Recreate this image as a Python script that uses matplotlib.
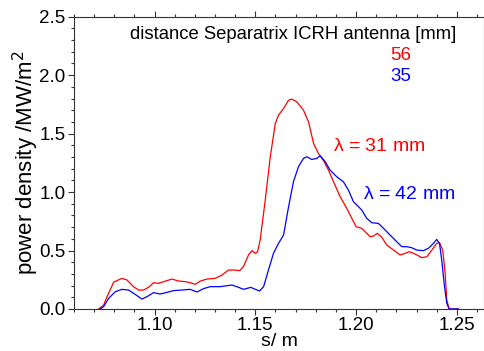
import matplotlib
matplotlib.use("Agg")
import matplotlib.pyplot as plt
from matplotlib.ticker import MultipleLocator, FormatStrFormatter

plt.rcParams['font.family'] = ['Liberation Sans', 'DejaVu Sans']

# distance 56 mm, lambda = 31 mm
s_red = [1.0722, 1.0747, 1.0764, 1.0797, 1.0838, 1.0863, 1.0896, 1.0921, 1.0945, 1.0970,
         1.0995, 1.1020, 1.1045, 1.1086, 1.1119, 1.1152, 1.1177, 1.1202, 1.1227, 1.1260,
         1.1301, 1.1334, 1.1367, 1.1392, 1.1422, 1.1441, 1.1466, 1.1483, 1.1500, 1.1511,
         1.1524, 1.1549, 1.1574, 1.1599, 1.1615, 1.1640, 1.1665, 1.1681, 1.1706, 1.1739,
         1.1764, 1.1789, 1.1813, 1.1838, 1.1863, 1.1888, 1.1921, 1.1954, 1.1979, 1.2000,
         1.2028, 1.2045, 1.2070, 1.2086, 1.2106, 1.2128, 1.2152, 1.2186, 1.2219, 1.2243,
         1.2265, 1.2293, 1.2326, 1.2351, 1.2376, 1.2400, 1.2414, 1.2430, 1.2442, 1.2450,
         1.2462, 1.2508]
p_red = [0.000, 0.034, 0.105, 0.230, 0.262, 0.248, 0.190, 0.162, 0.162, 0.185,
         0.225, 0.219, 0.234, 0.256, 0.239, 0.234, 0.225, 0.211, 0.239, 0.256,
         0.262, 0.290, 0.333, 0.333, 0.328, 0.362, 0.462, 0.499, 0.476, 0.490,
         0.590, 0.930, 1.300, 1.587, 1.658, 1.715, 1.786, 1.795, 1.772, 1.700,
         1.600, 1.416, 1.330, 1.270, 1.188, 1.088, 0.960, 0.860, 0.775, 0.704,
         0.690, 0.661, 0.618, 0.624, 0.647, 0.613, 0.547, 0.504, 0.462, 0.476,
         0.490, 0.470, 0.439, 0.447, 0.504, 0.561, 0.567, 0.504, 0.305, 0.077,
         0.000, 0.000]

# distance 35 mm, lambda = 42 mm
s_blue = [1.0730, 1.0747, 1.0772, 1.0805, 1.0838, 1.0871, 1.0896, 1.0937, 1.0962, 1.0995,
          1.1028, 1.1061, 1.1094, 1.1136, 1.1177, 1.1210, 1.1243, 1.1276, 1.1326, 1.1384,
          1.1417, 1.1441, 1.1478, 1.1500, 1.1521, 1.1541, 1.1565, 1.1590, 1.1615, 1.1640,
          1.1665, 1.1689, 1.1714, 1.1739, 1.1756, 1.1780, 1.1805, 1.1822, 1.1847, 1.1871,
          1.1904, 1.1937, 1.1962, 1.1987, 1.2012, 1.2028, 1.2053, 1.2078, 1.2111, 1.2136,
          1.2169, 1.2202, 1.2227, 1.2252, 1.2276, 1.2301, 1.2334, 1.2359, 1.2384, 1.2400,
          1.2414, 1.2425, 1.2437, 1.2450, 1.2462, 1.2508]
p_blue = [0.000, 0.020, 0.091, 0.148, 0.168, 0.162, 0.134, 0.085, 0.105, 0.140,
          0.128, 0.142, 0.157, 0.162, 0.168, 0.145, 0.174, 0.191, 0.191, 0.205,
          0.185, 0.168, 0.185, 0.168, 0.154, 0.191, 0.333, 0.476, 0.561, 0.632,
          0.875, 1.088, 1.217, 1.288, 1.302, 1.279, 1.288, 1.311, 1.259, 1.188,
          1.131, 1.088, 1.017, 0.917, 0.875, 0.846, 0.775, 0.738, 0.732, 0.690,
          0.632, 0.575, 0.533, 0.533, 0.524, 0.504, 0.499, 0.519, 0.561, 0.595,
          0.561, 0.419, 0.219, 0.048, 0.000, 0.000]

fig = plt.figure(figsize=(4.85, 3.51), dpi=100)
ax = fig.add_axes([0.1526, 0.1197, 0.8454, 0.8327])

ax.plot(s_red, p_red, color='#ff0000', lw=0.9)
ax.plot(s_blue, p_blue, color='#0000ff', lw=0.9)

ax.set_xlim(1.060, 1.2635)
ax.set_ylim(0, 2.5)
ax.xaxis.set_major_locator(MultipleLocator(0.05))
ax.xaxis.set_minor_locator(MultipleLocator(0.01))
ax.yaxis.set_major_locator(MultipleLocator(0.5))
ax.yaxis.set_minor_locator(MultipleLocator(0.1))
ax.xaxis.set_major_formatter(FormatStrFormatter('%.2f'))
ax.yaxis.set_major_formatter(FormatStrFormatter('%.1f'))
ax.tick_params(which='both', direction='out', top=True, right=False,
               labelsize=13.5, color='#333333', width=0.8, pad=2)
ax.tick_params(which='major', length=4)
ax.tick_params(which='minor', length=2.5)
for sp in ax.spines.values():
    sp.set_color('#333333')
    sp.set_linewidth(0.8)

ax.set_xlabel('s/ m', fontsize=14, labelpad=-1)
ax.set_ylabel('power density /MW/m$^2$', fontsize=16, labelpad=-1)

ax.text(1.2497, 2.35, 'distance Separatrix ICRH antenna [mm]', fontsize=13.3,
        ha='right', va='center')
ax.text(1.2273, 2.17, '56', color='#ff0000', fontsize=13.5, ha='right', va='center')
ax.text(1.2273, 1.99, '35', color='#0000ff', fontsize=13.5, ha='right', va='center')
ax.text(1.1886, 1.393, r'$\mathregular{\lambda}$ = 31 mm', color='#ff0000',
        fontsize=14, ha='left', va='center')
ax.text(1.2035, 0.983, r'$\mathregular{\lambda}$ = 42 mm', color='#0000ff',
        fontsize=14, ha='left', va='center')

fig.savefig('out.png', dpi=100)
